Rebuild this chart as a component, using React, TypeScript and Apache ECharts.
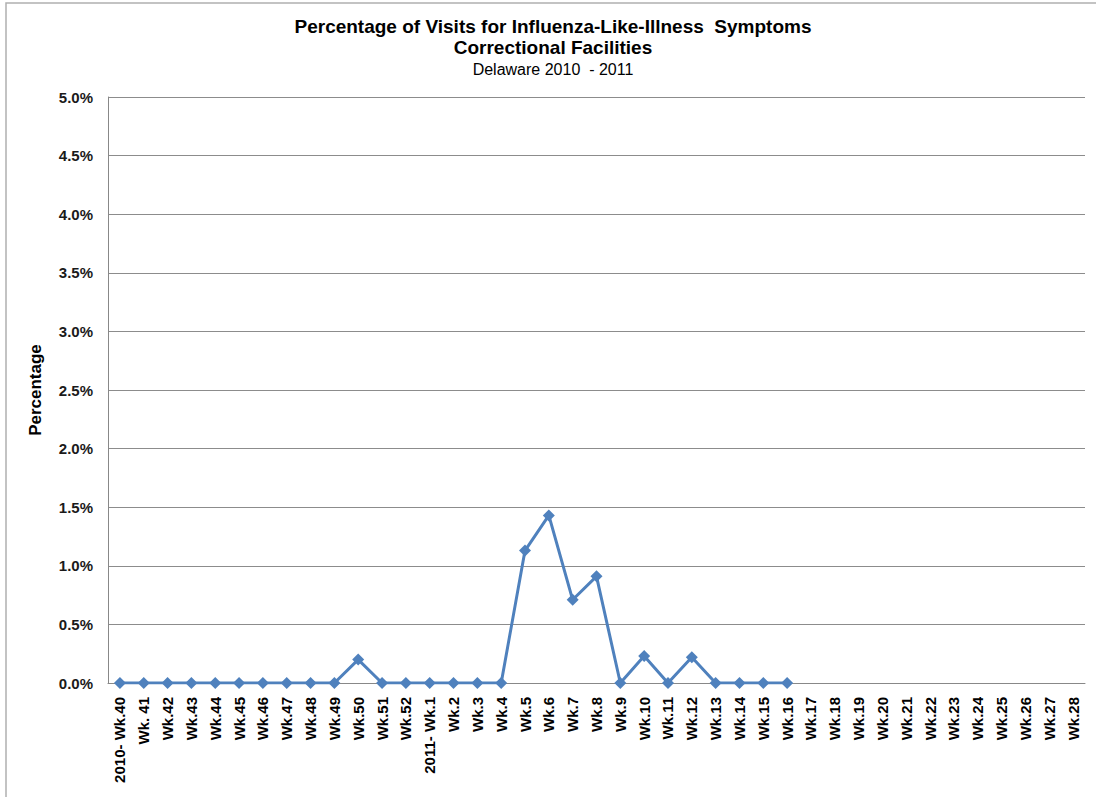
import React, { useEffect, useRef } from "react";
import * as echarts from "echarts";

const categories: string[] = [
  "2010- Wk.40", "Wk. 41", "Wk.42", "Wk.43", "Wk.44", "Wk.45", "Wk.46", "Wk.47", "Wk.48", "Wk.49",
  "Wk.50", "Wk.51", "Wk.52", "2011- Wk.1", "Wk.2", "Wk.3", "Wk.4", "Wk.5", "Wk.6", "Wk.7", "Wk.8",
  "Wk.9", "Wk.10", "Wk.11", "Wk.12", "Wk.13", "Wk.14", "Wk.15", "Wk.16", "Wk.17", "Wk.18", "Wk.19",
  "Wk.20", "Wk.21", "Wk.22", "Wk.23", "Wk.24", "Wk.25", "Wk.26", "Wk.27", "Wk.28",
];

const percentages: (number | null)[] = [
  0, 0, 0, 0, 0, 0, 0, 0, 0, 0,
  0.2, 0, 0, 0, 0, 0, 0, 1.13, 1.43, 0.71, 0.91,
  0, 0.23, 0, 0.22, 0, 0, 0, 0, null, null, null,
  null, null, null, null, null, null, null, null, null,
];

const titleLines: string[] = [
  "Percentage of Visits for Influenza-Like-Illness  Symptoms",
  "Correctional Facilities",
];
const subtitle = "Delaware 2010  - 2011";
const yAxisName = "Percentage";

export default function App() {
  const ref = useRef<HTMLDivElement>(null);
  useEffect(() => {
    document.body.style.margin = "0";
    const chart = echarts.init(ref.current!, undefined, { renderer: "svg" });
    const font = "Arial, 'Liberation Sans', sans-serif";
    chart.setOption({
      animation: false,
      backgroundColor: "#ffffff",
      graphic: [
        {
          type: "rect",
          shape: { x: 6, y: 3, width: 1300, height: 1000 },
          style: { fill: "none", stroke: "#b0b0b0", lineWidth: 1.5 },
          silent: true,
          z: -1,
        },
        {
          type: "text",
          x: 553,
          y: 26,
          style: {
            text: titleLines[0],
            fontFamily: font,
            fontWeight: "bold",
            fontSize: 19,
            fill: "#000",
            textAlign: "center",
            textVerticalAlign: "middle",
          },
        },
        {
          type: "text",
          x: 553,
          y: 47,
          style: {
            text: titleLines[1],
            fontFamily: font,
            fontWeight: "bold",
            fontSize: 19,
            fill: "#000",
            textAlign: "center",
            textVerticalAlign: "middle",
          },
        },
        {
          type: "text",
          x: 553,
          y: 69,
          style: {
            text: subtitle,
            fontFamily: font,
            fontSize: 16,
            fill: "#000",
            textAlign: "center",
            textVerticalAlign: "middle",
          },
        },
      ],
      grid: { left: 108, top: 97, right: 11, bottom: 114, containLabel: false },
      xAxis: {
        type: "category",
        data: categories,
        boundaryGap: true,
        axisLine: { show: true, lineStyle: { color: "#888888", width: 1 } },
        axisTick: { show: false },
        axisLabel: {
          rotate: 90,
          interval: 0,
          margin: 14,
          fontFamily: font,
          fontWeight: "bold",
          fontSize: 15,
          color: "#000",
        },
        splitLine: { show: false },
      },
      yAxis: {
        type: "value",
        min: 0,
        max: 5,
        interval: 0.5,
        name: yAxisName,
        nameLocation: "middle",
        nameGap: 64,
        nameRotate: 90,
        nameTextStyle: { fontFamily: font, fontWeight: "bold", fontSize: 17, color: "#000" },
        axisLine: { show: true, lineStyle: { color: "#888888", width: 1 } },
        axisTick: { show: false },
        axisLabel: {
          margin: 15,
          fontFamily: font,
          fontWeight: "bold",
          fontSize: 15,
          color: "#1a1a1a",
          formatter: (v: number) => v.toFixed(1) + "%",
        },
        splitLine: { show: true, lineStyle: { color: "#8c8c8c", width: 1 } },
      },
      series: [
        {
          type: "line",
          data: percentages,
          connectNulls: false,
          symbol: "diamond",
          symbolSize: 12,
          lineStyle: { color: "#4F81BD", width: 3 },
          itemStyle: { color: "#4F81BD" },
          z: 5,
        },
      ],
    });
    return () => chart.dispose();
  }, []);
  return <div ref={ref} style={{ width: 1096, height: 797 }} />;
}
